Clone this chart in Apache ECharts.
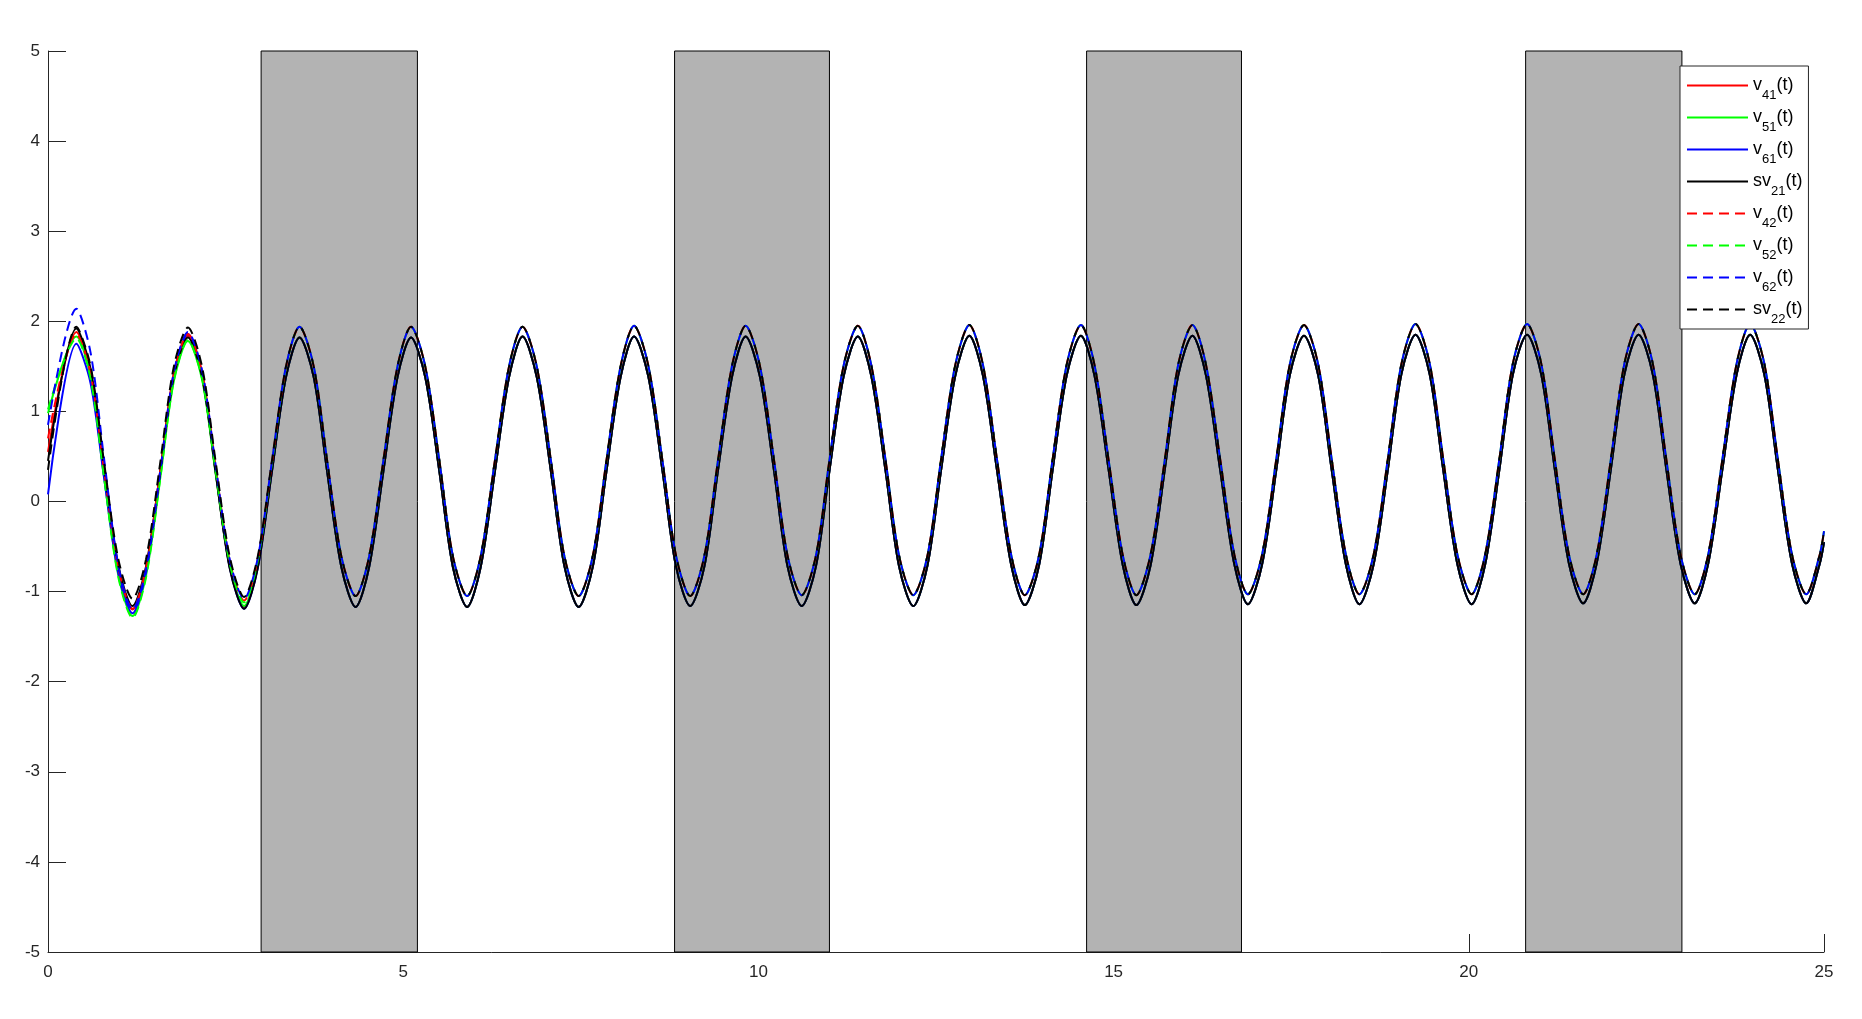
<!DOCTYPE html>
<html>
<head>
<meta charset="utf-8">
<title>v(t)</title>
<script src="https://cdn.jsdelivr.net/npm/echarts@6/dist/echarts.min.js"></script>
<style>
  html, body { margin: 0; padding: 0; background: #fff; }
  #main { width: 1862px; height: 1019px; }
</style>
</head>
<body>
<div id="main"></div>
<script>
// sample times: t=0, then 8 readings per period starting at each peak, then t=25
var times = [0,
  0.40, 0.60, 0.79, 0.99, 1.19, 1.38, 1.58, 1.77,
  1.97, 2.17, 2.36, 2.56, 2.76, 2.95, 3.15, 3.35,
  3.54, 3.74, 3.93, 4.13, 4.33, 4.52, 4.72, 4.92,
  5.11, 5.31, 5.51, 5.70, 5.90, 6.09, 6.29, 6.49,
  6.68, 6.88, 7.08, 7.27, 7.47, 7.67, 7.86, 8.06,
  8.25, 8.45, 8.65, 8.84, 9.04, 9.24, 9.43, 9.63,
  9.82, 10.02, 10.22, 10.41, 10.61, 10.81, 11.00, 11.20,
  11.40, 11.59, 11.79, 11.98, 12.18, 12.38, 12.57, 12.77,
  12.97, 13.16, 13.36, 13.56, 13.75, 13.95, 14.14, 14.34,
  14.54, 14.73, 14.93, 15.13, 15.32, 15.52, 15.72, 15.91,
  16.11, 16.30, 16.50, 16.70, 16.89, 17.09, 17.29, 17.48,
  17.68, 17.88, 18.07, 18.27, 18.46, 18.66, 18.86, 19.05,
  19.25, 19.45, 19.64, 19.84, 20.04, 20.23, 20.43, 20.62,
  20.82, 21.02, 21.21, 21.41, 21.61, 21.80, 22.00, 22.19,
  22.39, 22.59, 22.78, 22.98, 23.18, 23.37, 23.57, 23.77,
  23.96, 24.16, 24.35, 24.55, 24.75, 24.94,
  25];

// first two periods of every curve (t = 0 .. 3.35)
var v41Head  = [0.55, 1.88, 1.43, 0.34, -0.75, -1.20, -0.75, 0.32, 1.39, 1.84, 1.39, 0.33, -0.73, -1.17, -0.73, 0.33, 1.38];
var v51Head  = [0.98, 1.83, 1.38, 0.28, -0.82, -1.27, -0.82, 0.26, 1.33, 1.78, 1.35, 0.31, -0.73, -1.16, -0.72, 0.33, 1.38];
var v61Head  = [0.08, 1.75, 1.31, 0.26, -0.80, -1.24, -0.79, 0.31, 1.41, 1.86, 1.41, 0.34, -0.74, -1.19, -0.75, 0.32, 1.38];
var sv21Head = [0.45, 1.92, 1.47, 0.38, -0.71, -1.16, -0.72, 0.33, 1.38, 1.82, 1.38, 0.32, -0.75, -1.19, -0.75, 0.32, 1.38];
var v42Head  = [0.70, 1.86, 1.42, 0.34, -0.74, -1.19, -0.74, 0.34, 1.42, 1.86, 1.43, 0.38, -0.67, -1.10, -0.65, 0.42, 1.49];
var v52Head  = [1.02, 1.81, 1.36, 0.26, -0.84, -1.29, -0.84, 0.25, 1.34, 1.79, 1.36, 0.34, -0.69, -1.12, -0.67, 0.41, 1.49];
var v62Head  = [0.85, 2.14, 1.65, 0.47, -0.71, -1.20, -0.75, 0.34, 1.43, 1.88, 1.45, 0.40, -0.65, -1.08, -0.64, 0.43, 1.50];
var sv22Head = [0.35, 1.94, 1.50, 0.43, -0.64, -1.08, -0.64, 0.43, 1.49, 1.93, 1.49, 0.44, -0.62, -1.06, -0.62, 0.44, 1.50];

// from t = 3.5 on the solid curves share one track, the dashed ones another
var solidTail = [
  1.82, 1.38, 0.33, -0.73, -1.17, -0.73, 0.33, 1.38,
  1.82, 1.38, 0.33, -0.73, -1.17, -0.73, 0.33, 1.38,
  1.83, 1.38, 0.33, -0.72, -1.17, -0.72, 0.33, 1.38,
  1.83, 1.39, 0.34, -0.72, -1.16, -0.72, 0.34, 1.39,
  1.83, 1.39, 0.34, -0.72, -1.16, -0.72, 0.34, 1.39,
  1.83, 1.39, 0.34, -0.72, -1.16, -0.71, 0.34, 1.39,
  1.84, 1.40, 0.34, -0.71, -1.15, -0.71, 0.34, 1.40,
  1.84, 1.40, 0.35, -0.71, -1.15, -0.71, 0.35, 1.40,
  1.84, 1.40, 0.35, -0.70, -1.14, -0.70, 0.35, 1.40,
  1.84, 1.40, 0.35, -0.70, -1.14, -0.70, 0.35, 1.41,
  1.85, 1.41, 0.35, -0.70, -1.14, -0.70, 0.35, 1.41,
  1.85, 1.41, 0.36, -0.69, -1.13, -0.69, 0.36, 1.41,
  1.85, 1.41, 0.36, -0.69, -1.13, -0.69, 0.36, 1.41,
  1.85, 1.41, 0.36, -0.69, -1.13, -0.69,
  -0.45
];
var dashedTail = [
  1.94, 1.50, 0.45, -0.61, -1.05, -0.61, 0.45, 1.50,
  1.94, 1.50, 0.45, -0.61, -1.05, -0.61, 0.45, 1.50,
  1.94, 1.50, 0.45, -0.61, -1.05, -0.60, 0.45, 1.50,
  1.95, 1.51, 0.45, -0.60, -1.05, -0.60, 0.45, 1.51,
  1.95, 1.51, 0.46, -0.60, -1.04, -0.60, 0.46, 1.51,
  1.95, 1.51, 0.46, -0.60, -1.04, -0.60, 0.46, 1.51,
  1.96, 1.52, 0.46, -0.60, -1.04, -0.60, 0.46, 1.52,
  1.96, 1.52, 0.46, -0.60, -1.04, -0.59, 0.46, 1.52,
  1.96, 1.52, 0.47, -0.59, -1.03, -0.59, 0.47, 1.52,
  1.96, 1.52, 0.47, -0.59, -1.03, -0.59, 0.47, 1.52,
  1.97, 1.53, 0.47, -0.59, -1.03, -0.59, 0.47, 1.53,
  1.97, 1.53, 0.47, -0.59, -1.03, -0.59, 0.47, 1.53,
  1.97, 1.53, 0.47, -0.59, -1.03, -0.59, 0.47, 1.53,
  1.97, 1.53, 0.47, -0.59, -1.03, -0.59,
  -0.33
];

// grey switching intervals
var bands = [[3.0, 5.2], [8.82, 11.0], [14.62, 16.8], [20.8, 23.0]];

var names  = ['v41', 'v51', 'v61', 'sv21', 'v42', 'v52', 'v62', 'sv22'];
var heads  = [v41Head, v51Head, v61Head, sv21Head, v42Head, v52Head, v62Head, sv22Head];
var colors = ['#ff0000', '#00ff00', '#0000ff', '#000000', '#ff0000', '#00ff00', '#0000ff', '#000000'];

var axisColor = '#262626';
var font = '"Liberation Sans", Arial, sans-serif';

var series = [{
  name: 'bands',
  type: 'line',
  data: [],
  z: 1,
  markArea: {
    silent: true,
    itemStyle: { color: '#b3b3b3', borderColor: '#000', borderWidth: 1 },
    data: bands.map(function (b) {
      return [{ xAxis: b[0], yAxis: -5 }, { xAxis: b[1], yAxis: 5 }];
    })
  }
}];

for (var i = 0; i < names.length; i++) {
  var dashed = i >= 4;
  var vals = heads[i].concat(dashed ? dashedTail : solidTail);
  series.push({
    name: names[i],
    type: 'line',
    z: 2,
    symbol: 'none',
    showSymbol: false,
    smooth: 0.3,
    lineStyle: { color: colors[i], width: 2, type: dashed ? [10, 6] : 'solid' },
    itemStyle: { color: colors[i] },
    data: times.map(function (t, k) { return [t, vals[k]]; })
  });
}

var option = {
  animation: false,
  backgroundColor: '#fff',
  grid: { left: 48, right: 38, top: 51, bottom: 67 },
  legend: {
    data: names,
    orient: 'vertical',
    left: 1680,
    top: 66,
    padding: [3, 6, 3, 6],
    itemGap: -1,
    itemWidth: 61,
    itemHeight: 14,
    backgroundColor: '#fff',
    borderColor: axisColor,
    borderWidth: 1,
    borderRadius: 0,
    selectedMode: false,
    // hide the circle that line legends draw in the middle of the icon
    itemStyle: { opacity: 0 },
    formatter: function (name) {
      var m = name.match(/^([a-z]+)(\d+)$/);
      return '{a|' + m[1] + '}{b|' + m[2] + '}{a|(t)}';
    },
    textStyle: {
      color: '#000',
      fontFamily: font,
      rich: {
        a: { fontSize: 18, lineHeight: 24, fontFamily: font, color: '#000' },
        b: { fontSize: 13, lineHeight: 24, padding: [20, 0, 0, 0], fontFamily: font, color: '#000' }
      }
    }
  },
  xAxis: {
    type: 'value',
    min: 0,
    max: 25,
    interval: 5,
    axisLine: { show: true, onZero: false, lineStyle: { color: axisColor, width: 1 } },
    axisTick: { show: true, inside: true, length: 18, lineStyle: { color: axisColor } },
    axisLabel: { color: axisColor, fontSize: 17, fontFamily: font, margin: 12 },
    splitLine: { show: false }
  },
  yAxis: {
    type: 'value',
    min: -5,
    max: 5,
    interval: 1,
    axisLine: { show: true, onZero: false, lineStyle: { color: axisColor, width: 1 } },
    axisTick: { show: true, inside: true, length: 18, lineStyle: { color: axisColor } },
    axisLabel: { color: axisColor, fontSize: 17, fontFamily: font, margin: 8 },
    splitLine: { show: false }
  },
  series: series
};

var chart = echarts.init(document.getElementById('main'));
chart.setOption(option);
</script>
</body>
</html>
